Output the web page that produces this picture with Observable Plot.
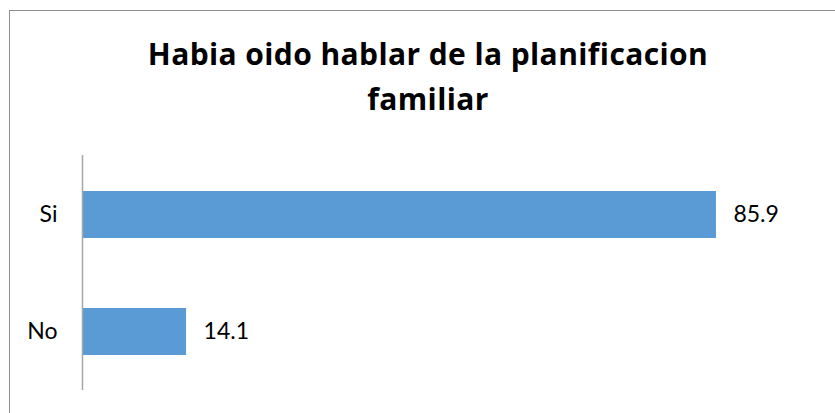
<!DOCTYPE html>
<html>
<head>
<meta charset="utf-8">
<script src="https://cdn.jsdelivr.net/npm/d3@7"></script>
<script src="https://cdn.jsdelivr.net/npm/@observablehq/plot@0.6"></script>
<style>
  html, body { margin: 0; padding: 0; background: #fff; overflow: hidden; }
  #wrap { position: relative; width: 835px; height: 413px; overflow: hidden; background: #fff; }
  #border { position: absolute; left: 9px; top: 10px; width: 860px; height: 440px; border: 1.5px solid #8e8e8e; box-sizing: border-box; }
  #title { position: absolute; left: 9px; top: 31px; width: 838px; text-align: center; font-family: "Open Sans", sans-serif; font-weight: bold; font-size: 30px; line-height: 45px; color: #000; font-variant-ligatures: none; letter-spacing: 0.4px; }
  #chart { position: absolute; left: 0; top: 0; }
</style>
</head>
<body>
<div id="wrap">
  <div id="border"></div>
  <div id="title">Habia oido hablar de la planificacion<br>familiar</div>
  <div id="chart"></div>
</div>
<script>
const categories = ["Si", "No"];
const values = [85.9, 14.1];
const data = categories.map((c, i) => ({category: c, value: values[i]}));

const chart = Plot.plot({
  width: 835,
  height: 413,
  marginLeft: 82,
  marginRight: 15,
  marginTop: 155,
  marginBottom: 23,
  style: {background: "transparent", fontFamily: "Lato, sans-serif", fontSize: "23px", color: "#000", overflow: "visible"},
  x: {domain: [0, 100], axis: null},
  y: {domain: categories, paddingInner: 0.6, paddingOuter: 0.3, label: null},
  marks: [
    Plot.barX(data, {x: "value", y: "category", fill: "#5b9bd5"}),
    Plot.ruleX([0], {stroke: "#a6a6a6", strokeWidth: 1.5}),
    Plot.axisY({tickSize: 0, tickPadding: 25, fontSize: 23, label: null, fill: "#000"}),
    Plot.text(data, {x: "value", y: "category", text: d => d.value.toFixed(1), textAnchor: "start", dx: 17, fontSize: 23, fill: "#000"})
  ]
});
document.getElementById("chart").appendChild(chart);
</script>
</body>
</html>
